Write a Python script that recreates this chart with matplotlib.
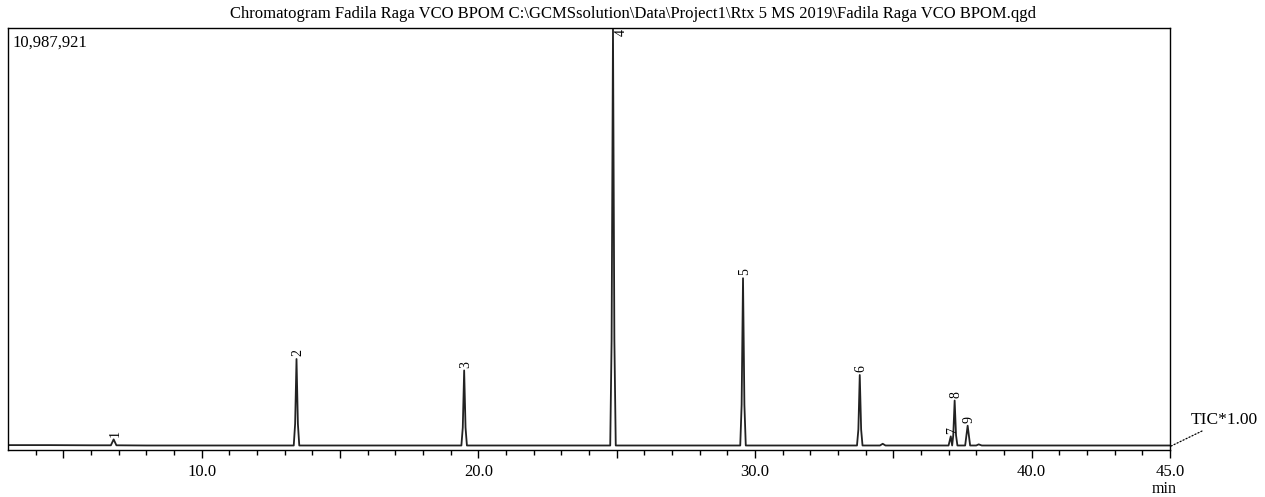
import matplotlib.pyplot as plt

# chromatogram trace points (time in min, intensity in counts)
times = [3.0, 4.5, 6.0, 6.72, 6.82, 6.92, 8.0, 13.33, 13.38, 13.43, 13.48, 13.53,
         19.39, 19.44, 19.49, 19.54, 19.59, 24.77, 24.82, 24.87, 24.92, 24.97,
         29.47, 29.52, 29.57, 29.62, 29.67, 33.69, 33.74, 33.79, 33.84, 33.89,
         34.52, 34.62, 34.72, 37.0, 37.08, 37.13, 37.17, 37.22, 37.27, 37.32,
         37.6, 37.69, 37.78, 38.0, 38.09, 38.2, 40.0, 45.0]
intensity = [40000, 40000, 35000, 35000, 190000, 35000, 30000, 30000, 600000, 2300000, 600000, 30000,
             30000, 500000, 2000000, 500000, 30000, 30000, 2800000, 10987921, 2800000, 30000,
             30000, 1100000, 4420000, 1100000, 30000, 30000, 450000, 1880000, 450000, 30000,
             30000, 75000, 30000, 30000, 270000, 30000, 300000, 1210000, 300000, 30000,
             30000, 550000, 30000, 30000, 60000, 30000, 30000, 30000]

peak_ids = ["1", "2", "3", "4", "5", "6", "7", "8", "9"]
peak_times = [6.82, 13.43, 19.49, 24.87, 29.57, 33.79, 37.08, 37.22, 37.69]
peak_heights = [190000, 2300000, 2000000, 10987921, 4420000, 1880000, 270000, 1210000, 550000]

full_scale = 10987921
title = r"Chromatogram Fadila Raga VCO BPOM C:\GCMSsolution\Data\Project1\Rtx 5 MS 2019\Fadila Raga VCO BPOM.qgd"

plt.rcParams["font.family"] = ["Liberation Serif", "DejaVu Serif"]

fig = plt.figure(figsize=(12.65, 4.97), dpi=100)
ax = fig.add_axes([0.0063, 0.0946, 0.9185, 0.8491])

ax.plot(times, intensity, color="#222222", lw=1.3, solid_joinstyle="round")

for pid, t, h in zip(peak_ids, peak_times, peak_heights):
    if h >= full_scale:
        # label of the full-scale peak sits at the top edge, partly cut off
        ax.text(t + 0.08, full_scale * 0.99, pid, rotation=90, ha="left", va="center",
                fontsize=10, clip_on=True)
        continue
    ax.annotate(pid, (t, h), xytext=(1, 2), textcoords="offset points",
                rotation=90, ha="center", va="bottom", fontsize=10)

ax.set_xlim(3.0, 45.0)
ax.set_ylim(-0.008 * full_scale, full_scale)
ax.set_yticks([])
ax.set_xticks([5, 10, 15, 20, 25, 30, 35, 40, 45])
ax.set_xticklabels(["", "10.0", "", "20.0", "", "30.0", "", "40.0", "45.0"], fontsize=12)
ax.set_xticks(range(4, 45), minor=True)
ax.tick_params(axis="x", which="major", length=6, width=1, pad=4)
ax.tick_params(axis="x", which="minor", length=3.5, width=1)
for s in ax.spines.values():
    s.set_linewidth(1.0)

ax.text(0.004, 0.985, f"{full_scale:,}", transform=ax.transAxes,
        ha="left", va="top", fontsize=12)
fig.text(0.5, 0.972, title, ha="center", va="center", fontsize=12)
fig.text(0.92, 0.016, "min", ha="center", va="center", fontsize=11.5)

# TIC marker with dotted leader
ax.annotate("TIC*1.00", xy=(45.0, 0), xytext=(45.75, 0.063 * full_scale),
            ha="left", va="center", fontsize=12.5, annotation_clip=False,
            arrowprops=dict(arrowstyle="-", ls=":", lw=0.9, color="black",
                            shrinkA=0, shrinkB=0))

fig.savefig("out.png", dpi=100)
